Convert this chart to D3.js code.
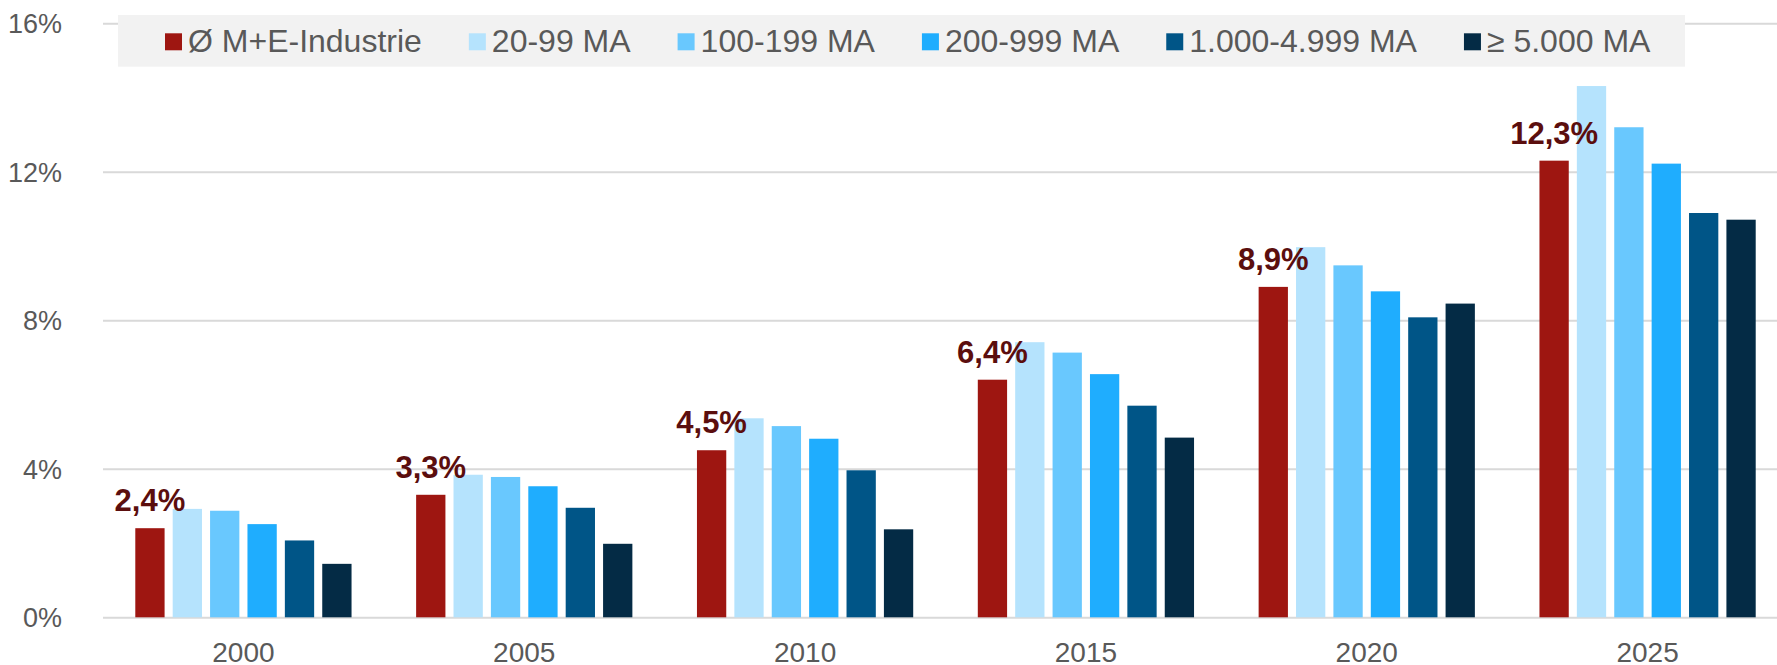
<!DOCTYPE html>
<html>
<head>
<meta charset="utf-8">
<script src="https://cdnjs.cloudflare.com/ajax/libs/d3/7.8.5/d3.min.js"></script>
<style>
body { margin: 0; background: #fff; }
text { font-family: "Liberation Sans", Arial, sans-serif; }
</style>
</head>
<body>
<div id="chart"></div>
<script>
// values (percent)
var years = ["2000", "2005", "2010", "2015", "2020", "2025"];
var seriesNames = ["Ø M+E-Industrie", "20-99 MA", "100-199 MA", "200-999 MA", "1.000-4.999 MA", "≥ 5.000 MA"];
var seriesColors = ["#9e1611", "#b5e3fd", "#69c8fe", "#1fadfe", "#005587", "#042b45"];
var avgIndustry = [2.4, 3.3, 4.5, 6.4, 8.9, 12.3];
var ma20to99 = [2.92, 3.84, 5.36, 7.41, 9.97, 14.31];
var ma100to199 = [2.87, 3.78, 5.15, 7.13, 9.48, 13.2];
var ma200to999 = [2.51, 3.53, 4.81, 6.55, 8.78, 12.22];
var ma1000to4999 = [2.07, 2.95, 3.96, 5.70, 8.08, 10.89];
var ma5000plus = [1.44, 1.98, 2.37, 4.84, 8.45, 10.71];
var yTicks = [0, 4, 8, 12, 16];

var allSeries = [avgIndustry, ma20to99, ma100to199, ma200to999, ma1000to4999, ma5000plus];

var width = 1777, height = 665;
// note: "top" is taken by window.top, so plot edges get their own names
var plotLeft = 103, plotRight = 1788, plotTop = 23.3, plotBottom = 617.3;

var svg = d3.select("#chart")
	.append("svg")
	.attr("width", width)
	.attr("height", height);

var y = d3.scaleLinear().domain([0, 16]).range([plotBottom, plotTop]);

var x0 = d3.scaleBand()
	.domain(years)
	.range([plotLeft, plotRight])
	.paddingInner(0.23)
	.paddingOuter(0.115);

var x1 = d3.scaleBand()
	.domain(d3.range(seriesNames.length))
	.range([0, x0.bandwidth()])
	.paddingInner(0.2166);

// gridlines + y labels
var yAxis = svg.append("g")
	.attr("transform", "translate(" + plotLeft + ",0)")
	.call(d3.axisLeft(y).tickValues(yTicks).tickSize(-(width - plotLeft)).tickPadding(41)
		.tickFormat(function(d) { return d + "%"; }));
yAxis.select(".domain").remove();
yAxis.selectAll("line").attr("stroke", "#d9d9d9").attr("stroke-width", 2);
yAxis.selectAll("text")
	.attr("fill", "#595959")
	.style("font-size", "27px")
	.attr("dy", "0.35em");

// x labels
var xAxis = svg.append("g")
	.attr("transform", "translate(0," + plotBottom + ")")
	.call(d3.axisBottom(x0).tickSize(0));
xAxis.select(".domain").remove();
xAxis.selectAll("text")
	.attr("fill", "#595959")
	.style("font-size", "28px")
	.attr("dy", null)
	.attr("y", 662 - plotBottom);

// bars
var rows = years.map(function(yr, i) {
	return { year: yr, values: allSeries.map(function(s, j) { return { k: j, v: s[i] }; }) };
});

var group = svg.selectAll(".year")
	.data(rows)
	.enter().append("g")
	.attr("class", "year")
	.attr("transform", function(d) { return "translate(" + x0(d.year) + ",0)"; });

group.selectAll("rect")
	.data(function(d) { return d.values; })
	.enter().append("rect")
	.attr("x", function(d) { return x1(d.k); })
	.attr("y", function(d) { return y(d.v); })
	.attr("width", x1.bandwidth())
	.attr("height", function(d) { return plotBottom - y(d.v); })
	.attr("fill", function(d) { return seriesColors[d.k]; });

// value labels on the industry average
group.append("text")
	.attr("x", x1(0) + x1.bandwidth() / 2)
	.attr("y", function(d) { return y(d.values[0].v) - 17; })
	.attr("text-anchor", "middle")
	.attr("fill", "#5b0e0e")
	.style("font-size", "31px")
	.style("font-weight", "bold")
	.text(function(d) { return d.values[0].v.toFixed(1).replace(".", ",") + "%"; });

// legend
var legend = svg.append("g");
legend.append("rect")
	.attr("x", 118)
	.attr("y", 15)
	.attr("width", 1685 - 118)
	.attr("height", 51.7)
	.attr("fill", "#f2f2f2");

var lx = 165;
seriesNames.forEach(function(name, i) {
	legend.append("rect")
		.attr("x", lx)
		.attr("y", 33.3)
		.attr("width", 17)
		.attr("height", 17)
		.attr("fill", seriesColors[i]);
	var t = legend.append("text")
		.attr("x", lx + 23)
		.attr("y", 52)
		.attr("fill", "#595959")
		.style("font-size", "32px")
		.text(name);
	lx = lx + 23 + t.node().getComputedTextLength() + 47;
});
</script>
</body>
</html>
